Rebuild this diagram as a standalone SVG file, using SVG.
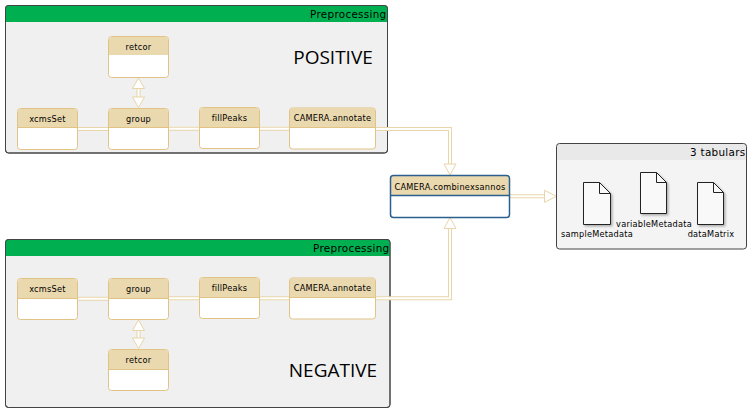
<svg xmlns="http://www.w3.org/2000/svg" width="752" height="413" viewBox="0 0 752 413">
<style>
text{font-family:"DejaVu Sans","Liberation Sans",sans-serif;fill:#000}
.panel{fill:#f0f0f0;stroke:#444;stroke-width:1}
.hd{fill:#00b050}
.ptitle{font-size:10.4px;text-anchor:end;letter-spacing:.3px}
.big{font-size:19px;text-anchor:middle;font-family:"Open Sans","DejaVu Sans",sans-serif}
.box{fill:#fff;stroke:#e2c386;stroke-width:1}
.bh{fill:#ead8ae}
.sep{stroke:#e2c386;stroke-width:1}
.lbl{font-size:8.2px;text-anchor:middle;letter-spacing:.25px}
.wo{fill:none;stroke:#e8d5a8;stroke-width:4}
.wi{fill:none;stroke:#fff;stroke-width:2}
.ah{fill:#fff;stroke:#e8d5a8;stroke-width:1}
.doc{fill:#f9f9f9;stroke:#222;stroke-width:1}
.fold{fill:none;stroke:#222;stroke-width:1}
</style>
<defs>
<filter id="sh" x="-30%" y="-30%" width="160%" height="160%"><feDropShadow dx="1.500" dy="1.500" stdDeviation="1" flood-color="#000" flood-opacity=".3"/></filter>
<clipPath id="cp1"><rect x="5.500" y="5.500" width="382" height="147.500" rx="3"/></clipPath>
<clipPath id="cp2"><rect x="5.500" y="239.500" width="384.500" height="168" rx="3"/></clipPath>
<clipPath id="cp3"><rect x="556.500" y="143.500" width="190" height="105.500" rx="3"/></clipPath>
</defs>

<g id="panel-positive">
<rect class="panel" x="5.500" y="5.500" width="382" height="147.500" rx="3"/>
<rect class="hd" x="5.500" y="5.500" width="382" height="16.500" clip-path="url(#cp1)"/>
<rect x="5.500" y="5.500" width="382" height="147.500" rx="3" fill="none" stroke="#444"/>
<text class="ptitle" x="386.500" y="18">Preprocessing</text>
<text class="big" x="333" y="64">POSITIVE</text>
</g>
<g id="panel-negative">
<rect class="panel" x="5.500" y="239.500" width="384.500" height="168" rx="3"/>
<rect class="hd" x="5.500" y="239.500" width="384.500" height="16.500" clip-path="url(#cp2)"/>
<rect x="5.500" y="239.500" width="384.500" height="168" rx="3" fill="none" stroke="#444"/>
<text class="ptitle" x="389.500" y="252">Preprocessing</text>
<text class="big" x="333" y="377">NEGATIVE</text>
</g>

<g id="connectors">
<path class="wo" d="M77.500 129H108M168 128.700H199.500M259.500 128.700H289.500M375 129H450V165"/>
<path class="wi" d="M77.500 129H108M168 128.700H199.500M259.500 128.700H289.500M375 129H450V165"/>
<path class="wo" d="M77.500 298.800H108M168 298.300H199.500M259.500 298.300H289.500M375 298.300H450V228"/>
<path class="wi" d="M77.500 298.800H108M168 298.300H199.500M259.500 298.300H289.500M375 298.300H450V228"/>
<path class="wo" d="M509 196.300H545"/><path class="wi" d="M509 196.300H545"/>
<path class="wo" d="M138.500 87V98"/><path class="wi" d="M138.500 87V98"/>
<path class="wo" d="M138.500 329V339"/><path class="wi" d="M138.500 329V339"/>
<polygon class="ah" points="450,175 444,164 456,164"/>
<polygon class="ah" points="450,217.500 444,228.500 456,228.500"/>
<polygon class="ah" points="556.500,196.300 544.500,190.300 544.500,202.300"/>
<polygon class="ah" points="138.500,78 132.500,88.500 144.500,88.500"/>
<polygon class="ah" points="138.500,107.500 132.500,97 144.500,97"/>
<polygon class="ah" points="138.500,320 132.500,330.500 144.500,330.500"/>
<polygon class="ah" points="138.500,348.500 132.500,338 144.500,338"/>
</g>

<g id="p-retcor"><rect class="box" x="108.500" y="36.500" width="60" height="41" rx="3"/><path class="bh" d="M109 55V40a3 3 0 0 1 3-3H165a3 3 0 0 1 3 3V55Z"/><text class="lbl" x="138.500" y="50">retcor</text></g>
<g id="p-xcmsSet"><rect class="box" x="17.500" y="108.500" width="60" height="41" rx="3"/><path class="bh" d="M18 127V112a3 3 0 0 1 3-3H74a3 3 0 0 1 3 3V127Z"/><path class="sep" d="M18 127.500H77"/><text class="lbl" x="47.500" y="122">xcmsSet</text></g>
<g id="p-group"><rect class="box" x="108.500" y="108.500" width="60" height="41" rx="3"/><path class="bh" d="M109 127V112a3 3 0 0 1 3-3H165a3 3 0 0 1 3 3V127Z"/><path class="sep" d="M109 127.500H168"/><text class="lbl" x="138.500" y="122">group</text></g>
<g id="p-fillPeaks"><rect class="box" x="199.500" y="107.500" width="60" height="41" rx="3"/><path class="bh" d="M200 127V111a3 3 0 0 1 3-3H256a3 3 0 0 1 3 3V127Z"/><path class="sep" d="M200 127.500H259"/><text class="lbl" x="229.500" y="121">fillPeaks</text></g>
<g id="p-annotate"><rect class="box" x="289.500" y="108" width="86" height="41" rx="3"/><path class="bh" d="M290 127V111a3 3 0 0 1 3-3H372a3 3 0 0 1 3 3V127Z"/><path class="sep" d="M290 127.500H375"/><text class="lbl" x="332.500" y="121">CAMERA.annotate</text></g>

<g id="n-xcmsSet"><rect class="box" x="17.500" y="278.500" width="60" height="41" rx="3"/><path class="bh" d="M18 298V282a3 3 0 0 1 3-3H74a3 3 0 0 1 3 3V298Z"/><path class="sep" d="M18 298.500H77"/><text class="lbl" x="47.500" y="292">xcmsSet</text></g>
<g id="n-group"><rect class="box" x="108.500" y="278.500" width="60" height="41" rx="3"/><path class="bh" d="M109 298V282a3 3 0 0 1 3-3H165a3 3 0 0 1 3 3V298Z"/><path class="sep" d="M109 298.500H168"/><text class="lbl" x="138.500" y="292">group</text></g>
<g id="n-fillPeaks"><rect class="box" x="199.500" y="277.500" width="60" height="41" rx="3"/><path class="bh" d="M200 297V281a3 3 0 0 1 3-3H256a3 3 0 0 1 3 3V297Z"/><path class="sep" d="M200 297.500H259"/><text class="lbl" x="229.500" y="291">fillPeaks</text></g>
<g id="n-annotate"><rect class="box" x="289.500" y="278" width="86" height="41" rx="3"/><path class="bh" d="M290 297V281a3 3 0 0 1 3-3H372a3 3 0 0 1 3 3V297Z"/><path class="sep" d="M290 297.500H375"/><text class="lbl" x="332.500" y="291">CAMERA.annotate</text></g>
<g id="n-retcor"><rect class="box" x="108.500" y="349.500" width="60" height="41" rx="3"/><path class="bh" d="M109 369V353a3 3 0 0 1 3-3H165a3 3 0 0 1 3 3V369Z"/><path class="sep" d="M109 369.500H168"/><text class="lbl" x="138.500" y="363">retcor</text></g>

<g id="combine"><rect x="390.500" y="175.500" width="119" height="42" rx="3" fill="#fff"/><path class="bh" d="M391 195V179a3 3 0 0 1 3-3H506a3 3 0 0 1 3 3V195Z"/><rect x="390.500" y="175.500" width="119" height="42" rx="3" fill="none" stroke="#2a5f8f" stroke-width="1.500"/><path d="M391 195.500H509" stroke="#2a5f8f" stroke-width="1.500"/><text class="lbl" x="450" y="189.500">CAMERA.combinexsannos</text></g>

<g id="tabulars">
<rect x="556.500" y="143.500" width="190" height="105.500" rx="3" fill="#f4f4f4"/>
<rect x="556.500" y="143.500" width="190" height="16.500" fill="#e9e9e9" clip-path="url(#cp3)"/>
<rect x="556.500" y="143.500" width="190" height="105.500" rx="3" fill="none" stroke="#444"/>
<text class="ptitle" x="745.500" y="156">3 tabulars</text>
<g id="doc-sample"><path class="doc" filter="url(#sh)" d="M583.500 182.500H599.500L610.500 193.500V224.500H583.500Z"/><path class="fold" d="M599.500 182.500V193.500H610.500"/><text class="lbl" x="597" y="237">sampleMetadata</text></g>
<g id="doc-variable"><path class="doc" filter="url(#sh)" d="M640.500 172.500H656.500L666.500 182.500V213.500H640.500Z"/><path class="fold" d="M656.500 172.500V182.500H666.500"/><text class="lbl" x="654" y="227">variableMetadata</text></g>
<g id="doc-matrix"><path class="doc" filter="url(#sh)" d="M697.500 182.500H713.500L723.500 192.500V224.500H697.500Z"/><path class="fold" d="M713.500 182.500V192.500H723.500"/><text class="lbl" x="711" y="237">dataMatrix</text></g>
</g>
</svg>
